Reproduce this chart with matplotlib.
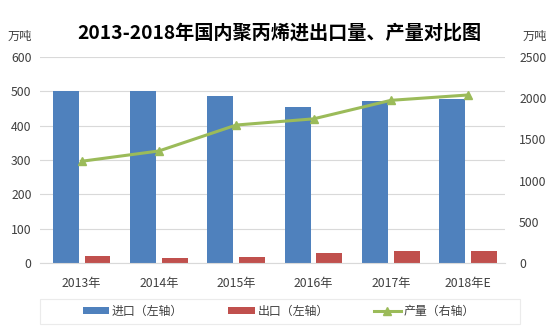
import numpy as np
import matplotlib
matplotlib.use('Agg')
import matplotlib.pyplot as plt
from matplotlib.patches import Rectangle

plt.rcParams['font.family'] = ['Noto Sans CJK SC', 'DejaVu Sans']

years = ['2013年', '2014年', '2015年', '2016年', '2017年', '2018年E']
imports = [500, 500, 488, 456, 472, 478]      # 左轴
exports = [19, 15, 18, 28, 35, 35]            # 左轴
output = [1235, 1360, 1675, 1750, 1975, 2040]  # 右轴

fig = plt.figure(figsize=(5.54, 3.32), dpi=100)
ax = fig.add_axes([0.072, 0.208, 0.84, 0.62])
ax2 = ax.twinx()

x = np.arange(len(years))
w = 0.335
ax.bar(x - 0.205, imports, w, color='#4F81BD', label='进口（左轴）', zorder=2)
ax.bar(x + 0.205, exports, w, color='#C0504D', label='出口（左轴）', zorder=2)
ax2.plot(x, output, color='#9BBB59', lw=2.2, marker='^', ms=5.5,
         label='产量（右轴）', zorder=3)

ax.set_ylim(0, 600)
ax.set_yticks(range(0, 601, 100))
ax2.set_ylim(0, 2500)
ax2.set_yticks(range(0, 2501, 500))
ax.set_xlim(-0.54, 5.48)
ax.set_xticks(x)
ax.set_xticklabels(years)
ax.yaxis.grid(True, color='#D9D9D9', lw=0.8, zorder=0)
ax.set_axisbelow(True)

for a in (ax, ax2):
    for s in a.spines.values():
        s.set_visible(False)
    a.tick_params(length=0, labelsize=8.8, colors='#404040')
ax.spines['bottom'].set_visible(True)
ax.spines['bottom'].set_color('#D9D9D9')
ax.tick_params(axis='y', pad=6)
ax2.tick_params(axis='y', pad=10)
ax.tick_params(axis='x', pad=10)

fig.text(0.505, 0.9, '2013-2018年国内聚丙烯进出口量、产量对比图', ha='center',
         va='center', fontsize=13.8, fontweight='bold')
fig.text(0.035, 0.89, '万吨', ha='center', va='center', fontsize=8.8, color='#404040')
fig.text(0.965, 0.89, '万吨', ha='center', va='center', fontsize=8.8, color='#404040')

# 图例外框
fig.patches.append(Rectangle((40 / 554, 1 - 324 / 332), 480 / 554, 25 / 332,
                             transform=fig.transFigure, fill=False,
                             edgecolor='#EBEBEB', lw=0.8))
h1, l1 = ax.get_legend_handles_labels()
h2, l2 = ax2.get_legend_handles_labels()
leg = fig.legend(h1 + h2, l1 + l2, loc='center', bbox_to_anchor=(0.503, 0.062),
                 ncol=3, fontsize=8.6, frameon=False,
                 handlelength=2.2, handleheight=0.55, handletextpad=0.25,
                 columnspacing=3.8)
for t in leg.get_texts():
    t.set_color('#404040')

fig.savefig('out.png', dpi=100)
